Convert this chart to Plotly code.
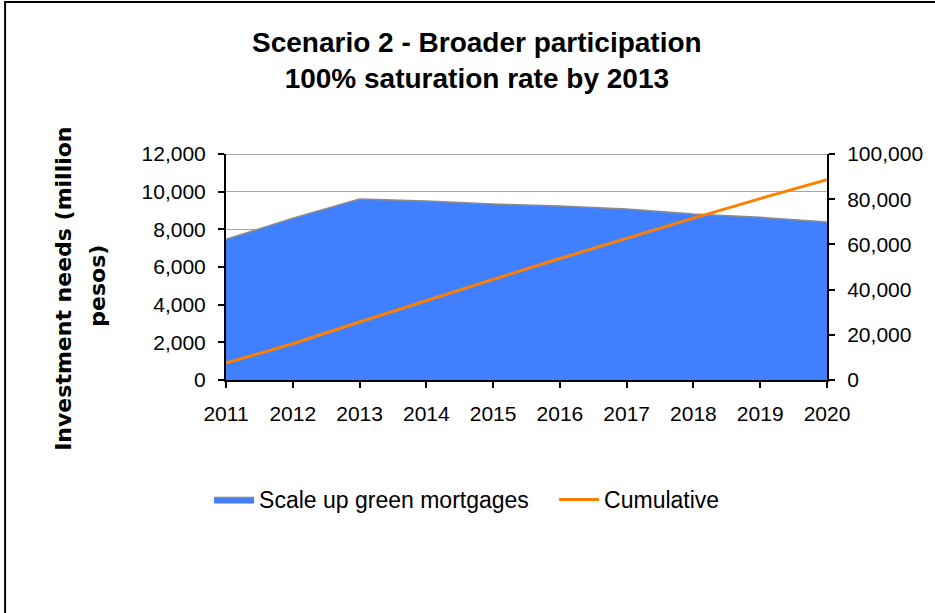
import plotly.graph_objects as go

years = [2011, 2012, 2013, 2014, 2015, 2016, 2017, 2018, 2019, 2020]
investment = [7470, 8590, 9610, 9500, 9340, 9240, 9080, 8820, 8640, 8390]
cumulative = [7470, 16050, 25660, 35150, 44500, 53740, 62820, 71640, 80280, 88670]
left_ticks = [0, 2000, 4000, 6000, 8000, 10000, 12000]
right_ticks = [0, 20000, 40000, 60000, 80000, 100000]

W, H = 935, 613
L, R, T, B = 226, 830, 154, 380  # plot box in figure px


def px_x(px):
    return (px - L) / (R - L)


def px_y(py):
    return (B - py) / (B - T)


font = "Liberation Sans, Arial, sans-serif"
bold_font = "DejaVu Sans, Verdana, sans-serif"

fig = go.Figure()
fig.add_trace(go.Scatter(
    x=years, y=investment, name="Scale up green mortgages",
    mode="lines", fill="tozeroy", fillcolor="#4080FF",
    line=dict(color="#8C8C8C", width=1.5),
))
fig.add_trace(go.Scatter(
    x=years, y=cumulative, name="Cumulative", yaxis="y2",
    mode="lines", line=dict(color="#FF8000", width=3),
))

axis_common = dict(
    showline=True, linecolor="black", linewidth=2,
    ticks="outside", ticklen=6, tickwidth=1.5, tickcolor="black",
    zeroline=False, tickfont=dict(size=21, family=font),
)

fig.update_layout(
    width=W, height=H,
    margin=dict(l=L, r=W - R, t=T, b=H - B, pad=0),
    paper_bgcolor="white", plot_bgcolor="white",
    font=dict(family=font, size=21, color="black"),
    showlegend=True,
    legend=dict(
        orientation="h", x=px_x(209), y=px_y(478), xanchor="left", yanchor="top",
        entrywidth=290, entrywidthmode="pixels",
        font=dict(size=23, family=font), bgcolor="rgba(0,0,0,0)",
        itemwidth=40,
    ),
    xaxis=dict(
        range=[2011, 2020], tickmode="array", tickvals=years,
        ticktext=[str(y) for y in years], showgrid=False,
        ticklabelstandoff=8, **axis_common,
    ),
    yaxis=dict(
        range=[0, 12000], tickvals=left_ticks, tickformat=",d",
        showgrid=True, gridcolor="#A6A6A6", gridwidth=1,
        ticklabelstandoff=8, **axis_common,
    ),
    yaxis2=dict(
        range=[0, 100000], tickvals=right_ticks, tickformat=",d",
        overlaying="y", side="right", showgrid=False,
        ticklabelstandoff=8, **axis_common,
    ),
    annotations=[
        dict(text="<b>Scenario 2 - Broader participation<br>100% saturation rate by 2013</b>",
             x=px_x(478), y=px_y(60), xref="paper", yref="paper",
             xanchor="center", yanchor="middle", showarrow=False,
             font=dict(size=28, family=font)),
        dict(text="<b>Investment needs (million</b>", textangle=-90,
             x=px_x(62), y=px_y(289), xref="paper", yref="paper",
             xanchor="center", yanchor="middle", showarrow=False,
             font=dict(size=22, family=bold_font)),
        dict(text="<b>pesos)</b>", textangle=-90,
             x=px_x(96), y=px_y(286), xref="paper", yref="paper",
             xanchor="center", yanchor="middle", showarrow=False,
             font=dict(size=22, family=bold_font)),
    ],
    shapes=[
        dict(type="rect", xref="paper", yref="paper",
             x0=px_x(4), x1=px_x(960), y0=px_y(640), y1=px_y(2),
             line=dict(color="black", width=2), fillcolor="rgba(0,0,0,0)",
             layer="below"),
        dict(type="line", xref="paper", yref="y", x0=0, x1=1, y0=12000, y1=12000,
             line=dict(color="#8C8C8C", width=1.5), layer="below"),
    ],
)

fig.write_html("out.html", config={"displayModeBar": False},
               post_script="document.body.style.margin='0';")
